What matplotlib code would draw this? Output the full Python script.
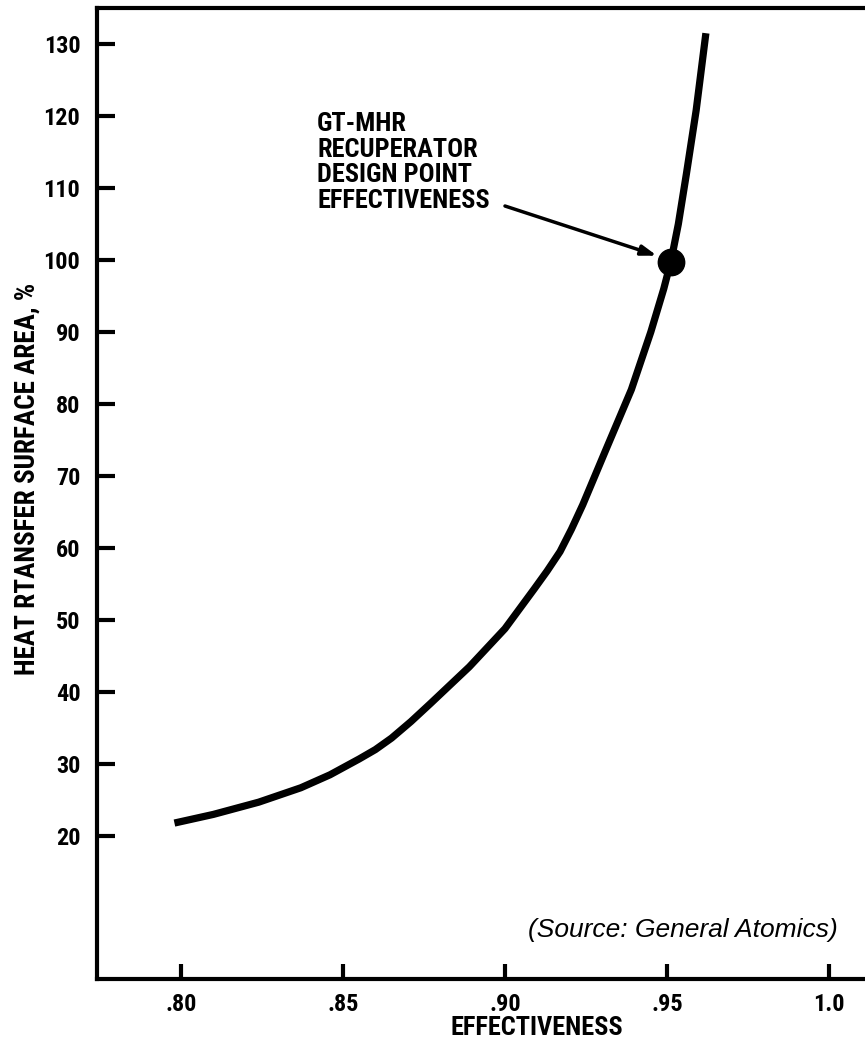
import matplotlib.pyplot as plt

# curve
effectiveness = [0.798, 0.810, 0.824, 0.837, 0.846, 0.855, 0.860, 0.865, 0.871, 0.877, 0.889, 0.900,
                 0.909, 0.913, 0.917, 0.9205, 0.924, 0.931, 0.939, 0.945, 0.949, 0.9513, 0.9535,
                 0.956, 0.959, 0.962]
surface_area = [21.8, 23.0, 24.7, 26.7, 28.5, 30.7, 32.0, 33.6, 35.9, 38.4, 43.5, 48.8,
                54.3, 56.8, 59.5, 62.6, 66.0, 73.5, 82.0, 90.0, 96.0, 100.0, 105.0,
                112.0, 120.8, 131.5]
design_x = 0.9513
design_y = 99.7
x_ticks = [0.80, 0.85, 0.90, 0.95, 1.0]
x_labels = ['.80', '.85', '.90', '.95', '1.0']
y_ticks = [20, 30, 40, 50, 60, 70, 80, 90, 100, 110, 120, 130]

bold_font = ['Roboto Condensed', 'DejaVu Sans']

W, H = 865, 1043
fig = plt.figure(figsize=(W / 100, H / 100), dpi=100)
ax = fig.add_axes([97 / W, (H - 979) / H, 1 - 97 / W, (979 - 8) / H])

ax.plot(effectiveness, surface_area, color='black', lw=5.2, solid_capstyle='butt', solid_joinstyle='round')
ax.plot([design_x], [design_y], 'o', color='black', markersize=19)

ax.set_xlim(0.7741, 1.0111)
ax.set_ylim(0.14, 135)
ax.set_xticks(x_ticks)
ax.set_xticklabels(x_labels)
ax.set_yticks(y_ticks)

for s in ['left', 'bottom', 'top']:
    ax.spines[s].set_linewidth(3)
ax.spines['right'].set_visible(False)

ax.tick_params(axis='y', direction='in', length=13, width=3, pad=12)
ax.tick_params(axis='x', direction='in', length=11, width=3, pad=10)
for lab in ax.get_xticklabels() + ax.get_yticklabels():
    lab.set_family(bold_font)
    lab.set_fontweight('bold')
    lab.set_fontsize(17.5)

fig.text(537 / W, 1 - 1028 / H, 'EFFECTIVENESS', ha='center', va='center',
         family=bold_font, fontweight='bold', fontsize=19)
fig.text(27 / W, 1 - 479 / H, 'HEAT RTANSFER SURFACE AREA, %', rotation=90,
         ha='center', va='center', family=bold_font, fontweight='bold', fontsize=19.5)

ax.text(0.842, 120.6, 'GT-MHR\nRECUPERATOR\nDESIGN POINT\nEFFECTIVENESS',
        ha='left', va='top', family=bold_font, fontweight='bold', fontsize=19, linespacing=1.1)
ax.annotate('', xy=(0.9469, 100.6), xytext=(0.900, 107.5),
            arrowprops=dict(arrowstyle='-|>,head_length=0.9,head_width=0.3', color='black',
                            lw=2.5, shrinkA=0, shrinkB=0))

ax.text(1.0028, 6.9, '(Source: General Atomics)', ha='right', va='center',
        family=['Liberation Sans', 'DejaVu Sans'], style='italic', fontsize=19)

fig.savefig('out.png', dpi=100)
